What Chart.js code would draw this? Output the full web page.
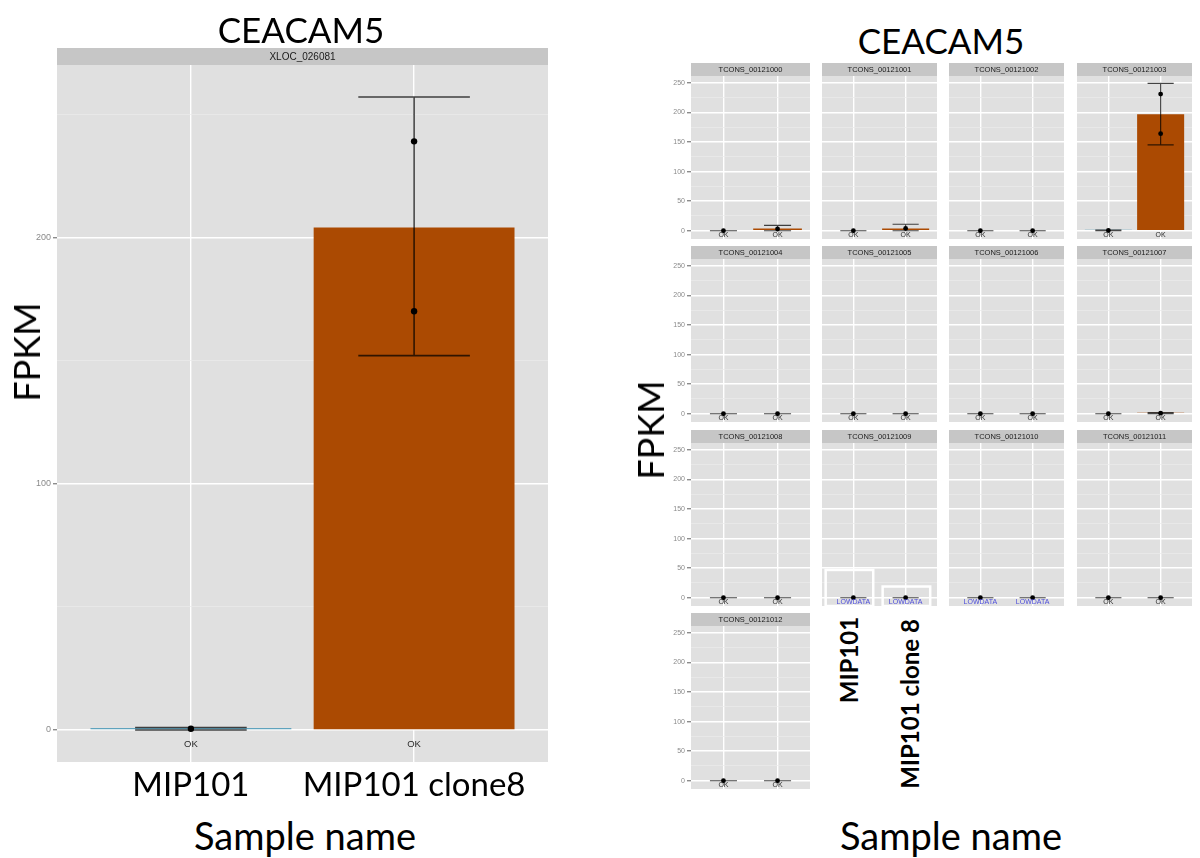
<!DOCTYPE html>
<html>
<head>
<meta charset="utf-8">
<title>CEACAM5 FPKM</title>
<script src="https://cdn.jsdelivr.net/npm/chart.js@4.4.1/dist/chart.umd.min.js"></script>
<style>
    html, body { margin: 0; padding: 0; background: #fff; }
    body { position: relative; width: 1200px; height: 858px; overflow: hidden; }
    canvas { position: absolute; }
    .label {
        position: absolute;
        font-family: Lato, 'Open Sans', sans-serif;
        color: #000;
        white-space: nowrap;
        line-height: 1;
        transform: translate(-50%, -50%);
    }
    .rot { transform: translate(-50%, -50%) rotate(-90deg); }
    .bold { font-weight: bold; }
</style>
</head>
<body>
<canvas id="gene-chart" width="560" height="764" style="left:0;top:48px"></canvas>
<div id="iso-grid"></div>

<div class="label" style="left:301px;top:29px;font-size:35px">CEACAM5</div>
<div class="label" style="left:941px;top:40px;font-size:35px">CEACAM5</div>
<div class="label rot" style="left:26px;top:352px;font-size:36px">FPKM</div>
<div class="label rot" style="left:650px;top:430px;font-size:36px">FPKM</div>
<div class="label" style="left:305px;top:835px;font-size:38px">Sample name</div>
<div class="label" style="left:951px;top:835px;font-size:38px">Sample name</div>
<div class="label rot bold" style="left:849px;top:660px;font-size:24px">MIP101</div>
<div class="label rot bold" style="left:910px;top:704px;font-size:24px">MIP101 clone 8</div>

<script>
// Samples
const samples = ['MIP101', 'MIP101 clone8'];
const sampleColors = ['#5fa3bd', '#ab4a02'];

// Gene level (XLOC_026081)
const geneId = 'XLOC_026081';
const geneFpkm = [0.8, 204];
const geneLo = [0, 152];
const geneHi = [1, 257];
const genePts = [[0.5], [239, 170]];
const geneStatus = ['OK', 'OK'];
const geneTicks = [0, 50, 100, 150, 200, 250];

// Isoform level
const isoforms = [
    'TCONS_00121000', 'TCONS_00121001', 'TCONS_00121002', 'TCONS_00121003',
    'TCONS_00121004', 'TCONS_00121005', 'TCONS_00121006', 'TCONS_00121007',
    'TCONS_00121008', 'TCONS_00121009', 'TCONS_00121010', 'TCONS_00121011',
    'TCONS_00121012'
];
const isoMipFpkm   = [0, 0, 0, 1.8, 0, 0, 0, 0, 0, 0, 0, 0, 0];
const isoCloneFpkm = [4, 4, 0, 197, 0, 0, 0, 1.8, 0, 0, 0, 0, 0];
const isoMipLo     = [0, 0, 0, 0, 0, 0, 0, 0, 0, 0, 0, 0, 0];
const isoMipHi     = [0, 0, 0, 1, 0, 0, 0, 0, 0, 0, 0, 0, 0];
const isoCloneLo   = [0, 0, 0, 145, 0, 0, 0, 0, 0, 0, 0, 0, 0];
const isoCloneHi   = [9, 11, 0, 249, 0, 0, 0, 2, 0, 0, 0, 0, 0];
const isoMipPts    = [0, 0, 0, 0.5, 0, 0, 0, 0, 0, 0, 0, 0, 0];
const isoClonePts  = [[3], [4], [0], [231, 164], [0], [0], [0], [1], [0], [0], [0], [0], [0]];
const isoStatus    = ['OK', 'OK', 'OK', 'OK', 'OK', 'OK', 'OK', 'OK', 'OK', 'LOWDATA', 'LOWDATA', 'OK', 'OK'];
const isoTicks = [0, 25, 50, 75, 100, 125, 150, 175, 200, 225, 250];

// boxes drawn over the TCONS_00121009 panel: [x from, x to, top FPKM]
const highlightIso = 'TCONS_00121009';
const highlightBoxes = [[0.47, 1.38, 47], [1.56, 2.47, 19]];

const statusColors = { OK: '#2b2b2b', LOWDATA: '#4d4dd9' };

// panel background + facet strip
const panelBg = {
    id: 'panelBg',
    beforeDraw(chart, args, opts) {
        const { ctx, chartArea: a } = chart;
        ctx.save();
        ctx.fillStyle = '#e0e0e0';
        ctx.fillRect(a.left, a.top, a.right - a.left, a.bottom - a.top);
        ctx.fillStyle = '#c6c6c6';
        ctx.fillRect(a.left, a.top - opts.stripH, a.right - a.left, opts.stripH);
        ctx.fillStyle = '#1a1a1a';
        ctx.font = opts.font;
        ctx.textAlign = 'center';
        ctx.textBaseline = 'middle';
        ctx.fillText(opts.text, (a.left + a.right) / 2, a.top - opts.stripH / 2 + 0.5);
        ctx.restore();
    }
};

// error bars, drawn right after the bars
const errorBars = {
    id: 'errorBars',
    afterDatasetDraw(chart, args, opts) {
        if (args.index !== 0) return;
        const { ctx, scales: { x, y } } = chart;
        const half = x.getPixelForValue(1 + opts.cap / 2) - x.getPixelForValue(1);
        ctx.save();
        ctx.strokeStyle = 'rgba(0,0,0,0.72)';
        ctx.lineWidth = opts.width;
        opts.lo.forEach((lo, i) => {
            const px = x.getPixelForValue(i + 1);
            const yl = y.getPixelForValue(lo);
            const yh = y.getPixelForValue(opts.hi[i]);
            ctx.beginPath();
            ctx.moveTo(px, yl); ctx.lineTo(px, yh);
            ctx.moveTo(px - half, yl); ctx.lineTo(px + half, yl);
            ctx.moveTo(px - half, yh); ctx.lineTo(px + half, yh);
            ctx.stroke();
        });
        ctx.restore();
    }
};

// "OK" / "LOWDATA" under each bar
const statusText = {
    id: 'statusText',
    afterDatasetsDraw(chart, args, opts) {
        const { ctx, scales: { x, y } } = chart;
        ctx.save();
        ctx.font = opts.font;
        ctx.textAlign = 'center';
        ctx.textBaseline = 'middle';
        opts.labels.forEach((s, i) => {
            ctx.fillStyle = statusColors[s] || '#333';
            ctx.fillText(s, x.getPixelForValue(i + 1), y.getPixelForValue(opts.at));
        });
        ctx.restore();
    }
};

const highlight = {
    id: 'highlight',
    afterDraw(chart, args, opts) {
        if (!opts.boxes) return;
        const { ctx, scales: { x, y } } = chart;
        ctx.save();
        ctx.strokeStyle = '#ffffff';
        ctx.lineWidth = 2.5;
        opts.boxes.forEach(([x0, x1, top]) => {
            const l = x.getPixelForValue(x0), r = x.getPixelForValue(x1);
            const t = y.getPixelForValue(top), b = y.getPixelForValue(y.min);
            ctx.strokeRect(l, t, r - l, b - t);
        });
        ctx.restore();
    }
};

function drawPanel(canvas, o) {
    const isMajor = c => c.tick && c.tick.value % o.major === 0;
    return new Chart(canvas, {
        type: 'bar',
        data: {
            datasets: [{
                type: 'bar',
                order: 2,
                data: o.fpkm.map((v, i) => ({ x: i + 1, y: v })),
                backgroundColor: sampleColors,
                borderWidth: 0,
                categoryPercentage: 0.9,
                barPercentage: 1
            }, {
                type: 'scatter',
                order: 1,
                data: o.pts.flatMap((arr, i) => arr.map(v => ({ x: i + 1, y: v }))),
                pointRadius: o.r,
                pointBackgroundColor: '#000',
                pointBorderWidth: 0
            }]
        },
        options: {
            responsive: false,
            animation: false,
            events: [],
            layout: { padding: { top: o.stripH, right: o.padR || 0, left: 0, bottom: 0 } },
            plugins: {
                legend: { display: false },
                tooltip: { enabled: false },
                panelBg: { text: o.strip, stripH: o.stripH, font: o.stripFont },
                errorBars: { lo: o.lo, hi: o.hi, cap: 0.5, width: o.ebW },
                statusText: { labels: o.status, at: o.statusAt, font: o.statusFont },
                highlight: { boxes: o.boxes }
            },
            scales: {
                x: {
                    type: 'linear',
                    min: 0.4,
                    max: 2.6,
                    offset: false,
                    afterBuildTicks: s => { s.ticks = [{ value: 1 }, { value: 2 }]; },
                    grid: { color: '#ffffff', lineWidth: 1.4, drawTicks: false, offset: false },
                    border: { display: false },
                    ticks: {
                        display: !!o.xLabels,
                        autoSkip: false,
                        maxRotation: 0,
                        padding: 4,
                        color: '#000',
                        font: { family: 'Lato, "Open Sans", sans-serif', size: 33 },
                        callback: (v, i) => o.xLabels ? o.xLabels[i] : ''
                    },
                    afterFit: s => { s.height = o.xH; s.paddingLeft = 0; s.paddingRight = 0; }
                },
                y: {
                    min: o.yMin,
                    max: o.yMax,
                    afterBuildTicks: s => { s.ticks = o.yTicks.map(v => ({ value: v })); },
                    grid: {
                        color: c => isMajor(c) ? '#ffffff' : '#ebebeb',
                        lineWidth: c => isMajor(c) ? 1.4 : 0.7,
                        tickColor: c => isMajor(c) ? '#8c8c8c' : 'rgba(0,0,0,0)',
                        drawTicks: o.showY,
                        tickLength: 4
                    },
                    border: { display: false },
                    ticks: {
                        display: o.showY,
                        autoSkip: false,
                        padding: 2,
                        color: '#8a8a8a',
                        font: { family: '"Liberation Sans", Arial, sans-serif', size: o.tickSize },
                        callback: v => v % o.major === 0 ? String(v) : ''
                    },
                    afterFit: s => { s.width = o.yW; s.paddingTop = 0; s.paddingBottom = 0; }
                }
            }
        },
        plugins: [panelBg, errorBars, statusText, highlight]
    });
}

// Gene panel (left)
drawPanel(document.getElementById('gene-chart'), {
    strip: geneId,
    stripH: 17,
    stripFont: '10px "Liberation Sans", Arial, sans-serif',
    fpkm: geneFpkm,
    lo: geneLo,
    hi: geneHi,
    pts: genePts,
    status: geneStatus,
    statusAt: -6,
    statusFont: '9.5px "Liberation Sans", Arial, sans-serif',
    r: 3.2,
    ebW: 1.6,
    yMin: -13,
    yMax: 270,
    yTicks: geneTicks,
    major: 100,
    showY: true,
    yW: 57,
    tickSize: 9,
    xLabels: samples,
    xH: 50,
    padR: 12
});

// Isoform grid (right)
const rowTops = [63, 246, 430, 613];
const colLefts = [691, 818, 945, 1073];
const panelW = 123;
const tickW = 40;
const grid = document.getElementById('iso-grid');

isoforms.forEach((iso, i) => {
    const row = Math.floor(i / 4), col = i % 4;
    const first = col === 0;
    const canvas = document.createElement('canvas');
    canvas.width = panelW + (first ? tickW : 0);
    canvas.height = 180;
    canvas.style.left = (colLefts[col] - (first ? tickW : 0)) + 'px';
    canvas.style.top = rowTops[row] + 'px';
    grid.appendChild(canvas);

    drawPanel(canvas, {
        strip: iso,
        stripH: 13,
        stripFont: '7.5px "Liberation Sans", Arial, sans-serif',
        fpkm: [isoMipFpkm[i], isoCloneFpkm[i]],
        lo: [isoMipLo[i], isoCloneLo[i]],
        hi: [isoMipHi[i], isoCloneHi[i]],
        pts: [[isoMipPts[i]], isoClonePts[i]],
        status: [isoStatus[i], isoStatus[i]],
        statusAt: -7.5,
        statusFont: '7px "Liberation Sans", Arial, sans-serif',
        r: 2.4,
        ebW: 1.2,
        yMin: -13.9,
        yMax: 261.5,
        yTicks: isoTicks,
        major: 50,
        showY: first,
        yW: first ? tickW : 0,
        tickSize: 7,
        xLabels: null,
        xH: 0,
        boxes: iso === highlightIso ? highlightBoxes : null
    });
});
</script>
</body>
</html>
